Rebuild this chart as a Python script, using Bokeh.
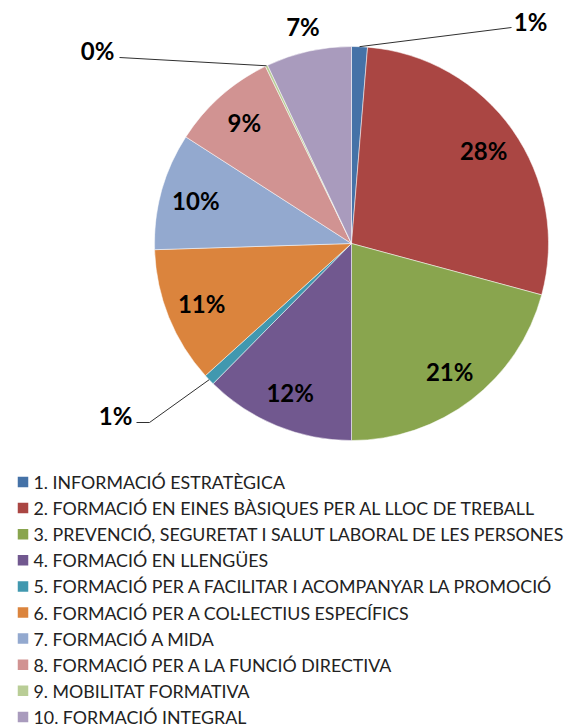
import math
from bokeh.plotting import figure
from bokeh.models import Range1d
from bokeh.core.properties import value
from bokeh.embed import file_html
from bokeh.resources import INLINE

# ---- data ----
categories = [
    "1. INFORMACIÓ ESTRATÈGICA",
    "2. FORMACIÓ EN EINES BÀSIQUES PER AL LLOC DE TREBALL",
    "3. PREVENCIÓ, SEGURETAT I SALUT LABORAL DE LES PERSONES",
    "4. FORMACIÓ EN LLENGÜES",
    "5. FORMACIÓ PER A FACILITAR I ACOMPANYAR LA PROMOCIÓ",
    "6. FORMACIÓ PER A COL·LECTIUS ESPECÍFICS",
    "7. FORMACIÓ A MIDA",
    "8. FORMACIÓ PER A LA FUNCIÓ DIRECTIVA",
    "9. MOBILITAT FORMATIVA",
    "10. FORMACIÓ INTEGRAL",
]
values = [1.3, 27.9, 20.8, 12.4, 0.9, 11.2, 9.6, 8.7, 0.2, 7.0]
colors = ["#4572A7", "#AA4643", "#89A54E", "#71588F", "#4198AF",
          "#DB843D", "#93A9CF", "#D19392", "#B9CD96", "#A99BBD"]

# ---- layout (reference pixel coords, converted to figure coords) ----
W, H = 582, 728
OFF = 0
def fx(x): return x - OFF
def fy(y): return H - (y - OFF)

CX, CY, R = fx(351), fy(243), 197

total = sum(values)
starts, ends, mids = [], [], []
cum = 0.0
for v in values:
    a0 = cum / total
    cum += v
    a1 = cum / total
    starts.append(math.pi / 2 - 2 * math.pi * a1)
    ends.append(math.pi / 2 - 2 * math.pi * a0)
    mids.append(math.pi / 2 - 2 * math.pi * (a0 + a1) / 2)

p = figure(width=W, height=H, x_range=Range1d(0, W), y_range=Range1d(0, H),
           output_backend="svg", toolbar_location=None, min_border=0,
           x_axis_location=None, y_axis_location=None)
p.grid.visible = False
p.outline_line_color = None
p.background_fill_color = "white"

p.wedge(x=[CX] * len(values), y=[CY] * len(values), radius=R,
        start_angle=starts, end_angle=ends, fill_color=colors,
        line_color="white", line_width=0.5)

labels = ["{:.0f}%".format(v / total * 100) for v in values]

# inside / outside labels
in_idx = [1, 2, 3, 5, 6, 7]
out_idx = [9]
lx, ly, lt = [], [], []
for i in in_idx:
    lx.append(CX + 0.82 * R * math.cos(mids[i]))
    ly.append(CY + 0.82 * R * math.sin(mids[i]))
    lt.append(labels[i])
for i in out_idx:
    lx.append(CX + 1.13 * R * math.cos(mids[i]))
    ly.append(CY + 1.13 * R * math.sin(mids[i]))
    lt.append(labels[i])

# leader-line labels: (index, label position, line elbow points) in ref coords
leaders = [
    (0, (530, 21), [(511, 27)]),
    (4, (115, 415), [(149, 422), (136, 422)]),
    (8, (97, 50), [(119, 57)]),
]
for i, (tx, ty), pts in leaders:
    ex = CX + R * math.cos(mids[i])
    ey = CY + R * math.sin(mids[i])
    xs = [ex] + [fx(a) for a, b in pts]
    ys = [ey] + [fy(b) for a, b in pts]
    p.line(xs, ys, line_color="#303030", line_width=1)
    lx.append(fx(tx))
    ly.append(fy(ty))
    lt.append(labels[i])

p.text(x=lx, y=ly, text=lt, text_font=value("Lato"), text_font_style="bold",
       text_font_size="24px", text_align="center", text_baseline="middle",
       text_color="black")

# legend
rows = len(categories)
ry = [fy(481.5 + 26.1 * k) for k in range(rows)]
p.rect(x=[fx(22.5)] * rows, y=ry, width=10.5, height=10.5, fill_color=colors,
       line_color=None)
p.text(x=[fx(33)] * rows, y=ry, text=categories, text_font=value("Lato"),
       text_font_size="17.8px", text_align="left", text_baseline="middle",
       text_color="#222222")

open("out.html", "w").write(file_html(p, INLINE))
